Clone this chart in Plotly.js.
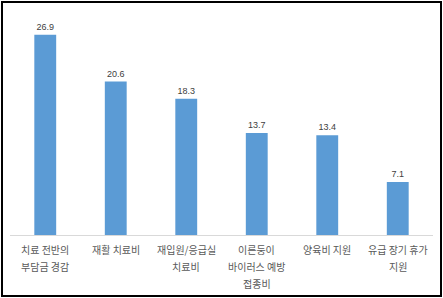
<!DOCTYPE html>
<html>
<head>
<meta charset="utf-8">
<script src="https://cdn.plot.ly/plotly-3.0.1.min.js"></script>
<style>
html,body{margin:0;padding:0;background:#fff;}
#wrap{position:relative;width:443px;height:298px;overflow:hidden;}
#chart{position:absolute;left:0;top:0;width:443px;height:298px;}
#frame{position:absolute;left:1px;top:1px;width:437px;height:292px;border:2px solid #000;pointer-events:none;}
</style>
</head>
<body>
<div id="wrap"><div id="chart"></div><div id="frame"></div></div>
<script>
// Data
var categories = ["cat1","cat2","cat3","cat4","cat5","cat6"];
var labelLines = [
  ["치료 전반의","부담금 경감"],
  ["재활 치료비"],
  ["재입원/응급실","치료비"],
  ["이른둥이","바이러스 예방","접종비"],
  ["양육비 지원"],
  ["유급 장기 휴가","지원"]
];
var values = [26.9, 20.6, 18.3, 13.7, 13.4, 7.1];

var trace = {
  type: "bar",
  x: categories,
  y: values,
  marker: {color: "#5B9BD5"},
  text: values.map(function(v){return v.toFixed(1);}),
  textposition: "outside",
  cliponaxis: false,
  textfont: {family: "Liberation Sans, Arial, sans-serif", size: 9, color: "#404040"},
  hoverinfo: "none"
};

var annotations = [];
labelLines.forEach(function(lines, i){
  lines.forEach(function(line, j){
    annotations.push({
      x: categories[i], y: 0, xref: "x", yref: "paper",
      text: line, showarrow: false,
      xanchor: "center", yanchor: "middle",
      yshift: -14 - 17*j,
      font: {family: "Noto Sans CJK KR, sans-serif", size: 10, color: "#595959"}
    });
  });
});

var layout = {
  width: 443, height: 298,
  margin: {l: 10, r: 10, t: 19, b: 63},
  paper_bgcolor: "rgba(0,0,0,0)",
  plot_bgcolor: "rgba(0,0,0,0)",
  showlegend: false,
  bargap: 0.69,
  xaxis: {
    showticklabels: false, ticks: "", showgrid: false, zeroline: false,
    showline: true, linecolor: "#D9D9D9", linewidth: 1
  },
  yaxis: {
    range: [0, 29], visible: false, showgrid: false, zeroline: false
  },
  annotations: annotations
};

Plotly.newPlot("chart", [trace], layout, {displayModeBar: false, staticPlot: true});
</script>
</body>
</html>
